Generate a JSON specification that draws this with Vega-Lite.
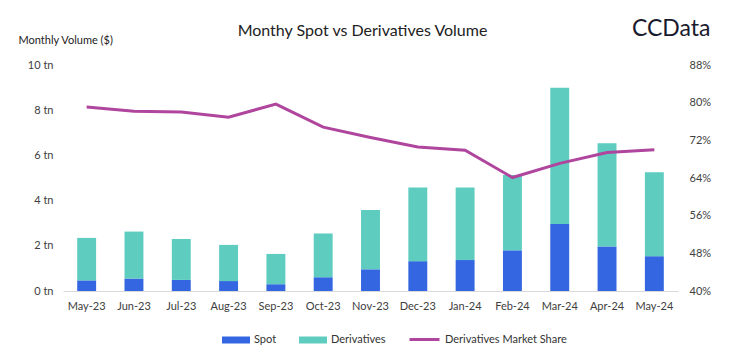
{
  "$schema": "https://vega.github.io/schema/vega-lite/v6.json",
  "autosize": "none",
  "width": 615,
  "height": 226,
  "padding": {"left": 63, "top": 65, "right": 63, "bottom": 69},
  "background": "white",
  "title": {
    "text": "Monthy Spot vs Derivatives Volume",
    "anchor": "middle",
    "font": "Lato",
    "fontSize": 16,
    "fontWeight": "normal",
    "color": "#222222",
    "dx": -8,
    "dy": 26
  },
  "config": {
    "view": {"stroke": null},
    "font": "Lato",
    "axis": {"labelFont": "Lato", "labelFontSize": 11, "labelColor": "#404040", "grid": false, "ticks": false},
    "legend": {"labelFont": "Lato", "labelFontSize": 11, "labelColor": "#333333"}
  },
  "data": {
    "values": [
      {"month": "May-23", "Spot": 0.47, "Derivatives": 1.88, "share": 0.791},
      {"month": "Jun-23", "Spot": 0.55, "Derivatives": 2.08, "share": 0.782},
      {"month": "Jul-23", "Spot": 0.49, "Derivatives": 1.81, "share": 0.780},
      {"month": "Aug-23", "Spot": 0.44, "Derivatives": 1.60, "share": 0.769},
      {"month": "Sep-23", "Spot": 0.30, "Derivatives": 1.34, "share": 0.797},
      {"month": "Oct-23", "Spot": 0.61, "Derivatives": 1.93, "share": 0.748},
      {"month": "Nov-23", "Spot": 0.96, "Derivatives": 2.62, "share": 0.726},
      {"month": "Dec-23", "Spot": 1.32, "Derivatives": 3.26, "share": 0.706},
      {"month": "Jan-24", "Spot": 1.37, "Derivatives": 3.21, "share": 0.699},
      {"month": "Feb-24", "Spot": 1.80, "Derivatives": 3.33, "share": 0.641},
      {"month": "Mar-24", "Spot": 2.96, "Derivatives": 6.03, "share": 0.671},
      {"month": "Apr-24", "Spot": 1.97, "Derivatives": 4.57, "share": 0.694},
      {"month": "May-24", "Spot": 1.54, "Derivatives": 3.71, "share": 0.700}
    ]
  },
  "encoding": {
    "x": {
      "field": "month",
      "type": "nominal",
      "sort": null,
      "scale": {"paddingInner": 0.6},
      "axis": {"title": null, "labelAngle": 0, "domainColor": "#d9d9d9", "labelPadding": 9}
    }
  },
  "layer": [
    {
      "transform": [{"fold": ["Spot", "Derivatives"], "as": ["type", "value"]}],
      "mark": {"type": "bar"},
      "encoding": {
        "y": {
          "field": "value",
          "type": "quantitative",
          "stack": "zero",
          "scale": {"domain": [0, 10]},
          "axis": {
            "values": [0, 2, 4, 6, 8, 10],
            "labelExpr": "datum.value + ' tn'",
            "domain": false,
            "labelPadding": 10,
            "title": "Monthly Volume ($)",
            "titleAngle": 0,
            "titleAlign": "left",
            "titleBaseline": "middle",
            "titleX": -45,
            "titleY": -25,
            "titleFont": "Lato",
            "titleFontSize": 11,
            "titleFontWeight": "normal",
            "titleColor": "#222222"
          }
        },
        "color": {
          "field": "type",
          "type": "nominal",
          "scale": {"domain": ["Spot", "Derivatives"], "range": ["#3366e0", "#5ecdc0"]},
          "legend": {
            "title": null,
            "orient": "none",
            "legendX": 159,
            "legendY": 261,
            "direction": "horizontal",
            "symbolType": "M-1,-0.25H1V0.25H-1Z",
            "symbolSize": 784,
            "symbolStrokeWidth": 0,
            "columnPadding": 22
          }
        },
        "order": {"field": "type", "sort": "descending"}
      }
    },
    {
      "mark": {"type": "line", "strokeWidth": 3},
      "encoding": {
        "y": {
          "field": "share",
          "type": "quantitative",
          "scale": {"domain": [0.4, 0.88], "zero": false},
          "axis": {
            "orient": "right",
            "values": [0.4, 0.48, 0.56, 0.64, 0.72, 0.8, 0.88],
            "format": ".0%",
            "domain": false,
            "labelPadding": 11,
            "title": "CCData",
            "titleAngle": 0,
            "titleAlign": "right",
            "titleBaseline": "middle",
            "titleX": 32,
            "titleY": -37,
            "titleFont": "Lato",
            "titleFontSize": 23,
            "titleFontWeight": "normal",
            "titleColor": "#1a1a2e"
          }
        },
        "stroke": {
          "datum": "Derivatives Market Share",
          "type": "nominal",
          "scale": {"range": ["#b0459e"]},
          "legend": {
            "title": null,
            "orient": "none",
            "legendX": 345,
            "legendY": 258,
            "symbolType": "stroke",
            "symbolSize": 900,
            "symbolStrokeWidth": 3
          }
        }
      }
    }
  ],
  "resolve": {"scale": {"y": "independent"}}
}
